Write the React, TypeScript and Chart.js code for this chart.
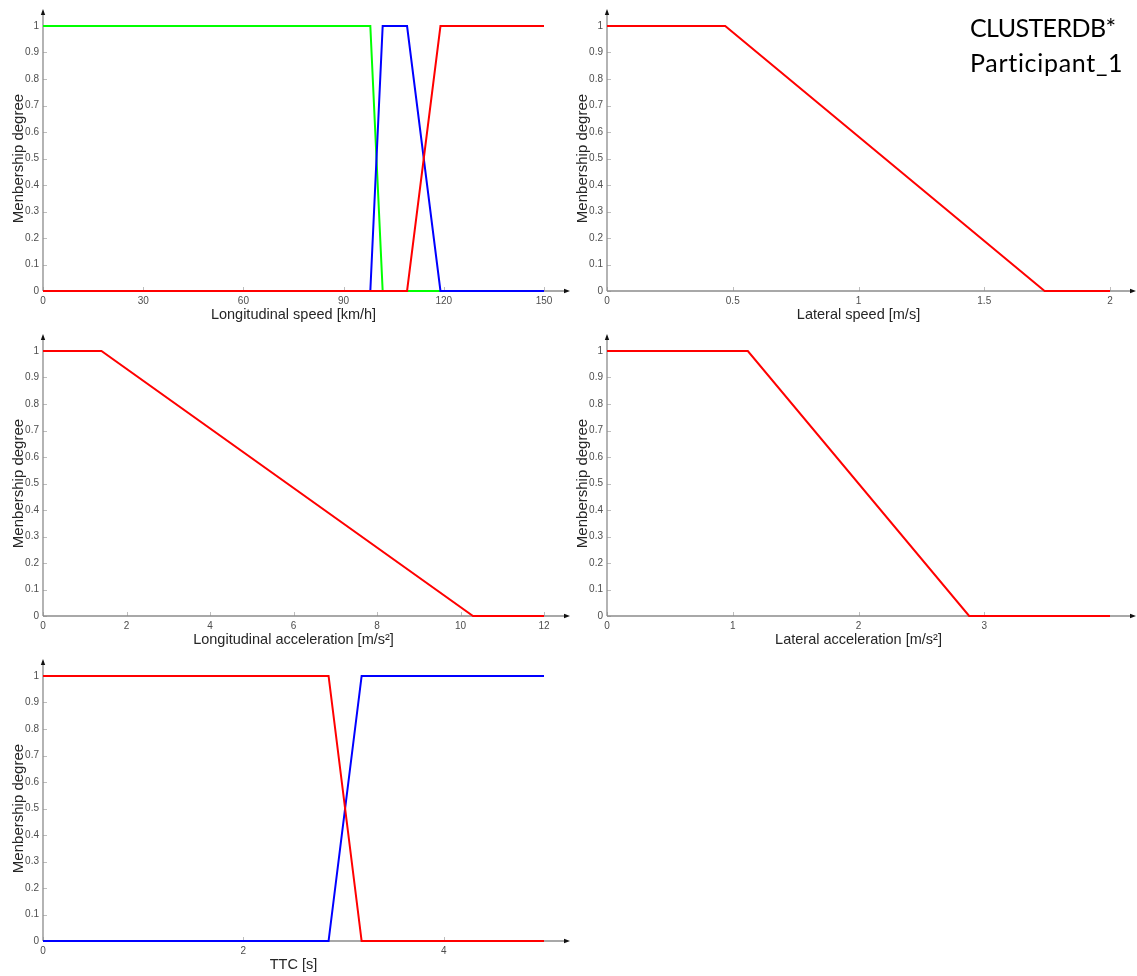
import React, { useEffect, useRef } from "react";
import { Chart, registerables } from "chart.js";

Chart.register(...registerables);

// ---------- data ----------
const membershipTicks = [0, 0.1, 0.2, 0.3, 0.4, 0.5, 0.6, 0.7, 0.8, 0.9, 1];

const longSpeedTicks = [0, 30, 60, 90, 120, 150];
const longSpeedX = [0, 98, 101.7, 109, 119, 150];
const longSpeedGreen = [1, 1, 0, 0, 0, 0];
const longSpeedBlue = [0, 0, 1, 1, 0, 0];
const longSpeedRed = [0, 0, 0, 0, 1, 1];

const latSpeedTicks = [0, 0.5, 1, 1.5, 2];
const latSpeedX = [0, 0.47, 1.74, 2];
const latSpeedRed = [1, 1, 0, 0];

const longAccTicks = [0, 2, 4, 6, 8, 10, 12];
const longAccX = [0, 1.4, 10.3, 12];
const longAccRed = [1, 1, 0, 0];

const latAccTicks = [0, 1, 2, 3];
const latAccX = [0, 1.12, 2.88, 4];
const latAccRed = [1, 1, 0, 0];

const ttcTicks = [0, 2, 4];
const ttcX = [0, 2.85, 3.18, 5];
const ttcRed = [1, 1, 0, 0];
const ttcBlue = [0, 0, 1, 1];

const RED = "rgb(255,0,0)";
const BLUE = "rgb(0,0,255)";
const GREEN = "rgb(0,255,0)";

type Series = { ys: number[]; color: string };

const FONT = "'Liberation Sans', Arial, Helvetica, sans-serif";

const fmt = (v: any) => String(Math.round(Number(v) * 1000) / 1000);

const axisPlugin = {
  id: "matlabAxes",
  beforeDatasetsDraw(chart: any) {
    const { ctx, chartArea: a, scales } = chart;
    const xs = scales.x;
    const ys = scales.y;
    ctx.save();
    // tick marks (inside)
    ctx.strokeStyle = "#bdbdbd";
    ctx.lineWidth = 1;
    ctx.beginPath();
    for (const t of xs.ticks) {
      const px = Math.round(xs.getPixelForValue(t.value)) + 0.5;
      ctx.moveTo(px, a.bottom);
      ctx.lineTo(px, a.bottom - 4);
    }
    for (const t of ys.ticks) {
      const py = Math.round(ys.getPixelForValue(t.value)) + 0.5;
      ctx.moveTo(a.left, py);
      ctx.lineTo(a.left + 4, py);
    }
    ctx.stroke();
    // axis lines
    ctx.strokeStyle = "#8c8c8c";
    ctx.lineWidth = 1.3;
    const xEnd = a.right + 21;
    const yEnd = a.top - 12;
    ctx.beginPath();
    ctx.moveTo(a.left, a.bottom);
    ctx.lineTo(xEnd, a.bottom);
    ctx.moveTo(a.left, a.bottom);
    ctx.lineTo(a.left, yEnd);
    ctx.stroke();
    // arrow heads
    ctx.fillStyle = "#111";
    ctx.beginPath();
    ctx.moveTo(xEnd + 5, a.bottom);
    ctx.lineTo(xEnd - 1, a.bottom - 2.2);
    ctx.lineTo(xEnd - 1, a.bottom + 2.2);
    ctx.closePath();
    ctx.fill();
    ctx.beginPath();
    ctx.moveTo(a.left, yEnd - 5);
    ctx.lineTo(a.left - 2.2, yEnd + 1);
    ctx.lineTo(a.left + 2.2, yEnd + 1);
    ctx.closePath();
    ctx.fill();
    ctx.restore();
  },
};

type PanelProps = {
  left: number;
  top: number;
  width: number;
  height: number;
  padRight: number;
  xMax: number;
  xTicks: number[];
  xs: number[];
  series: Series[];
  xTitle: string;
};

function Panel(p: PanelProps) {
  const ref = useRef<HTMLCanvasElement | null>(null);
  useEffect(() => {
    if (!ref.current) return;
    const chart = new Chart(ref.current, {
      type: "line",
      data: {
        datasets: p.series.map((s, i) => ({
          data: p.xs.map((x, k) => ({ x, y: s.ys[k] })),
          borderColor: s.color,
          backgroundColor: s.color,
          borderWidth: 2,
          pointRadius: 0,
          tension: 0,
          fill: false,
          clip: false as any,
          order: p.series.length - i,
        })),
      },
      options: {
        responsive: false,
        animation: false,
        events: [],
        layout: { padding: { top: 26, right: p.padRight, left: 0, bottom: 0 } },
        plugins: { legend: { display: false }, tooltip: { enabled: false } },
        scales: {
          x: {
            type: "linear",
            min: 0,
            max: p.xMax,
            grid: { display: false, drawTicks: false },
            border: { display: false },
            afterBuildTicks: (s: any) => {
              s.ticks = p.xTicks.map((v) => ({ value: v }));
            },
            afterFit: (s: any) => {
              s.height = 34;
            },
            ticks: {
              autoSkip: false,
              maxRotation: 0,
              padding: 4,
              color: "#4d4d4d",
              font: { family: FONT, size: 10 },
              callback: fmt,
            },
            title: {
              display: true,
              text: p.xTitle,
              color: "#262626",
              font: { family: FONT, size: 14.5 },
              padding: { top: 0, bottom: 1 },
            },
          },
          y: {
            type: "linear",
            min: 0,
            max: 1,
            grid: { display: false, drawTicks: false },
            border: { display: false },
            afterBuildTicks: (s: any) => {
              s.ticks = membershipTicks.map((v) => ({ value: v }));
            },
            afterFit: (s: any) => {
              s.width = 43;
            },
            ticks: {
              autoSkip: false,
              padding: 4,
              color: "#4d4d4d",
              font: { family: FONT, size: 10 },
              callback: fmt,
            },
            title: {
              display: true,
              text: "Menbership degree",
              color: "#262626",
              font: { family: FONT, size: 15 },
              padding: { top: 9.5, bottom: 0 },
            },
          },
        },
      },
      plugins: [axisPlugin],
    } as any);
    return () => chart.destroy();
  }, []);
  return (
    <canvas
      ref={ref}
      width={p.width}
      height={p.height}
      style={{ position: "absolute", left: p.left, top: p.top, width: p.width, height: p.height }}
    />
  );
}

export default function App() {
  const LW = 580;
  const RL = 564;
  const RW = 573;
  const H = 325;
  return (
    <div style={{ position: "absolute", left: 0, top: 0, width: 1137, height: 976, background: "#fff", overflow: "hidden" }}>
      <Panel left={0} top={0} width={LW} height={H} padRight={LW - 544} xMax={150} xTicks={longSpeedTicks} xs={longSpeedX}
        series={[{ ys: longSpeedGreen, color: GREEN }, { ys: longSpeedBlue, color: BLUE }, { ys: longSpeedRed, color: RED }]}
        xTitle="Longitudinal speed [km/h]" />
      <Panel left={RL} top={0} width={RW} height={H} padRight={RL + RW - 1110} xMax={2} xTicks={latSpeedTicks} xs={latSpeedX}
        series={[{ ys: latSpeedRed, color: RED }]} xTitle="Lateral speed [m/s]" />
      <Panel left={0} top={325} width={LW} height={H} padRight={LW - 544} xMax={12} xTicks={longAccTicks} xs={longAccX}
        series={[{ ys: longAccRed, color: RED }]} xTitle="Longitudinal acceleration [m/s²]" />
      <Panel left={RL} top={325} width={RW} height={H} padRight={RL + RW - 1110} xMax={4} xTicks={latAccTicks} xs={latAccX}
        series={[{ ys: latAccRed, color: RED }]} xTitle="Lateral acceleration [m/s²]" />
      <Panel left={0} top={650} width={LW} height={H} padRight={LW - 544} xMax={5} xTicks={ttcTicks} xs={ttcX}
        series={[{ ys: ttcBlue, color: BLUE }, { ys: ttcRed, color: RED }]} xTitle="TTC [s]" />
      <div style={{ position: "absolute", left: 970, top: 10, fontFamily: "Lato, 'Open Sans', sans-serif", fontSize: 25, lineHeight: "35px", color: "#000", whiteSpace: "nowrap" }}>
        <div style={{ letterSpacing: "-0.6px" }}>CLUSTERDB*</div>
        <div style={{ letterSpacing: "0.7px" }}>Participant_1</div>
      </div>
    </div>
  );
}
